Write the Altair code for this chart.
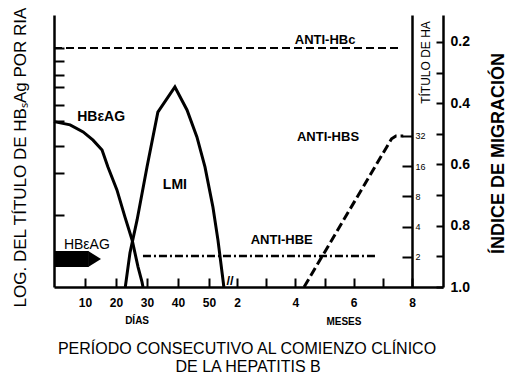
import altair as alt
import pandas as pd

# ---------------- values ----------------
# HBeAG curve (log titre by RIA, arbitrary units 0-10) vs days
hbeag_day = [0, 5.2, 9.4, 12.6, 15.5, 17.4, 20.3, 22.9, 25.2, 27.1, 28.4, 28.7]
hbeag_titer = [6.08, 5.96, 5.7, 5.4, 5.04, 4.41, 3.57, 2.57, 1.73, 0.74, 0.18, 0.0]

# LMI (migration index, right outer axis) vs days
lmi_day = [23.0, 24.5, 26.8, 30.0, 33.5, 39.0, 42.9, 46.1, 48.7, 51.4, 53.2, 55.0, 55.3]
lmi_index = [1.0, 0.889, 0.781, 0.608, 0.429, 0.347, 0.422, 0.51, 0.608, 0.739, 0.847, 0.977, 1.0]

# Anti-HBs (HA titre, inner right axis) vs months
antihbs_month = [4.3, 7.3, 7.45, 7.7]
antihbs_ha = [1, 30, 32, 32]

# Anti-HBc (dashed) and Anti-HBe (dash-dot) levels
antihbc_day = [0, 225.6]
antihbc_titer = [8.79, 8.79]
antihbe_day = [28.7, 202]
antihbe_titer = [1.14, 1.14]

# HBeAG arrow (bottom left)
arrow_day = [0, 11.2]
arrow_titer = [1.03, 1.03]
arrow_head_day = [13.1]

# axis ticks
day_ticks = [10, 20, 30, 40, 50]
month_ticks = [2, 3, 4, 5, 6, 7, 8]
titer_ticks = [2.65, 4.2, 5.2, 6.1, 6.7, 7.35, 7.8, 8.3, 8.8]
ha_ticks = [2, 4, 8, 16, 32]
mig_ticks = [0.2, 0.3, 0.4, 0.5, 0.6, 0.7, 0.8, 0.9, 1.0]

# annotations (x in days, y in titre units)
bold_labels = ["HBεAG", "LMI"]
bold_label_day = [15.2, 39.0]
bold_label_titer = [6.25, 3.75]

plain_labels = ["HBεAG"]
plain_label_day = [10.6]
plain_label_titer = [1.54]

anti_labels = ["ANTI-HBc", "ANTI-HBS", "ANTI-HBE"]
anti_label_day = [150.6, 153.6, 106.0]
anti_label_titer = [9.08, 5.51, 1.73]

unit_labels = ["DÍAS", "MESES"]
unit_label_day = [26.8, 170.0]
unit_label_titer = [-1.25, -1.29]

caption_lines = ["PERÍODO CONSECUTIVO AL COMIENZO CLÍNICO", "DE LA HEPATITIS B"]
caption_day = [70.3, 71.4]
caption_titer = [-2.28, -2.95]

break_day = [57.5]
break_titer = [0.22]

DAYS_PER_MONTH = 30

# ---------------- tables ----------------
hbeag_df = pd.DataFrame({"day": hbeag_day, "titer": hbeag_titer})
lmi_df = pd.DataFrame({"day": lmi_day, "mig": lmi_index})
antihbs_df = pd.DataFrame({"day": [m * DAYS_PER_MONTH for m in antihbs_month], "ha": antihbs_ha})
antihbc_df = pd.DataFrame({"day": antihbc_day, "titer": antihbc_titer})
antihbe_df = pd.DataFrame({"day": antihbe_day, "titer": antihbe_titer})
arrow_df = pd.DataFrame({"day": arrow_day, "titer": arrow_titer})
head_df = pd.DataFrame({"day": arrow_head_day, "titer": [arrow_titer[0]]})
bold_df = pd.DataFrame({"day": bold_label_day, "titer": bold_label_titer, "t": bold_labels})
plain_df = pd.DataFrame({"day": plain_label_day, "titer": plain_label_titer, "t": plain_labels})
anti_df = pd.DataFrame({"day": anti_label_day, "titer": anti_label_titer, "t": anti_labels})
unit_df = pd.DataFrame({"day": unit_label_day, "titer": unit_label_titer, "t": unit_labels})
cap_df = pd.DataFrame({"day": caption_day, "titer": caption_titer, "t": caption_lines})
break_df = pd.DataFrame({"day": break_day, "titer": break_titer, "t": ["//"]})

# ---------------- scales & axes ----------------
W, H = 389, 272
FONT = "Liberation Sans"

xscale = alt.Scale(domain=[0, 50, 60, 240, 272], range=[0, 155, 183, 358, 389], nice=False, zero=False)
xaxis = alt.Axis(
    orient="top", offset=-H, values=day_ticks + [m * DAYS_PER_MONTH for m in month_ticks],
    ticks=True, tickSize=9, tickWidth=2, tickColor="black",
    labelPadding=-19, labelBaseline="top", labelAlign="center",
    labelExpr="datum.value < 55 ? datum.value : ((datum.value / 30) % 2 == 0 ? datum.value / 30 : '')",
    labelFontSize=12, labelFontWeight="bold", labelOverlap=False, labelFlush=False, title=None,
)
X = alt.X("day:Q", scale=xscale, axis=xaxis)

titer_scale = alt.Scale(domain=[0, 10], nice=False, zero=False)
titer_axis = alt.Axis(
    orient="right", offset=-W, values=titer_ticks, ticks=True, tickSize=10, tickWidth=2,
    tickColor="black", labels=False,
    title="LOG. DEL TÍTULO DE HBₛAg POR RIA", titleX=-34, titleY=142, titleAngle=270,
    titleAlign="center", titleBaseline="middle", titleFontSize=17, titleFontWeight="normal",
)
ha_scale = alt.Scale(type="log", base=2, domain=[1, 512], nice=False)
ha_axis = alt.Axis(
    orient="left", offset=-358, values=ha_ticks, ticks=True, tickSize=10, tickWidth=2,
    tickColor="black", labelAlign="left", labelPadding=-13,
    labelBaseline="middle", labelFontSize=9, format="d",
    title="TÍTULO DE HA", titleX=13, titleY=47, titleAngle=270, titleAlign="center",
    titleBaseline="middle", titleFontSize=12, titleFontWeight="normal",
)
mig_scale = alt.Scale(domain=[1.0, 0.112], nice=False, zero=False)
mig_axis = alt.Axis(
    orient="left", offset=-W, values=mig_ticks, ticks=True, tickSize=7, tickWidth=2,
    tickColor="black", labelAlign="left", labelPadding=-14,
    labelBaseline="middle", labelFontSize=14, labelFontWeight="bold",
    labelExpr="round(datum.value * 10) % 2 == 0 ? format(datum.value, '.1f') : ''",
    title="ÍNDICE DE MIGRACIÓN", titleX=55, titleY=138, titleAngle=270, titleAlign="center",
    titleBaseline="middle", titleFontSize=18, titleFontWeight="bold",
)

def Yt(axis=None):
    return alt.Y("titer:Q", scale=titer_scale, axis=axis)

# ---------------- layers ----------------
hbeag = alt.Chart(hbeag_df).mark_line(color="black", strokeWidth=3).encode(x=X, y=Yt(titer_axis))
lmi = alt.Chart(lmi_df).mark_line(color="black", strokeWidth=3).encode(
    x=X, y=alt.Y("mig:Q", scale=mig_scale, axis=mig_axis))
antihbs = alt.Chart(antihbs_df).mark_line(color="black", strokeWidth=3, strokeDash=[9, 4]).encode(
    x=X, y=alt.Y("ha:Q", scale=ha_scale, axis=ha_axis))
antihbc = alt.Chart(antihbc_df).mark_line(color="black", strokeWidth=2, strokeDash=[8, 4]).encode(x=X, y=Yt())
antihbe = alt.Chart(antihbe_df).mark_line(color="black", strokeWidth=2.5, strokeDash=[8, 3, 2, 3]).encode(x=X, y=Yt())
arrow = alt.Chart(arrow_df).mark_line(color="black", strokeWidth=16, strokeCap="butt").encode(x=X, y=Yt())
head = alt.Chart(head_df).mark_point(shape="M-0.8,-1L0.8,0L-0.8,1Z", filled=True, size=256,
                                     color="black", opacity=1, strokeWidth=0).encode(x=X, y=Yt())

def text_layer(df, size, weight, **kw):
    return alt.Chart(df).mark_text(font=FONT, fontSize=size, fontWeight=weight, color="black",
                                   align="center", baseline="middle", **kw).encode(x=X, y=Yt(), text="t:N")

layers = [
    hbeag, lmi, antihbs, antihbc, antihbe, arrow, head,
    text_layer(bold_df, 14, "bold"),
    text_layer(plain_df, 14, "normal"),
    text_layer(anti_df, 13, "bold"),
    text_layer(unit_df, 10, "bold"),
    text_layer(cap_df, 16, "normal"),
    text_layer(break_df, 13, "bold"),
]

chart = (
    alt.layer(*layers)
    .resolve_scale(y="independent")
    .properties(width=W, height=H, autosize=alt.AutoSizeParams(type="none"),
                padding={"left": 54, "top": 15, "right": 74, "bottom": 89})
    .configure_view(stroke=None)
    .configure_axis(grid=False, ticks=True, domainColor="black", domainWidth=2.5,
                    tickWidth=2, labelColor="black", titleColor="black", labelFont=FONT, titleFont=FONT)
)

chart.save("out.html", embed_options={"renderer": "svg", "actions": False})
